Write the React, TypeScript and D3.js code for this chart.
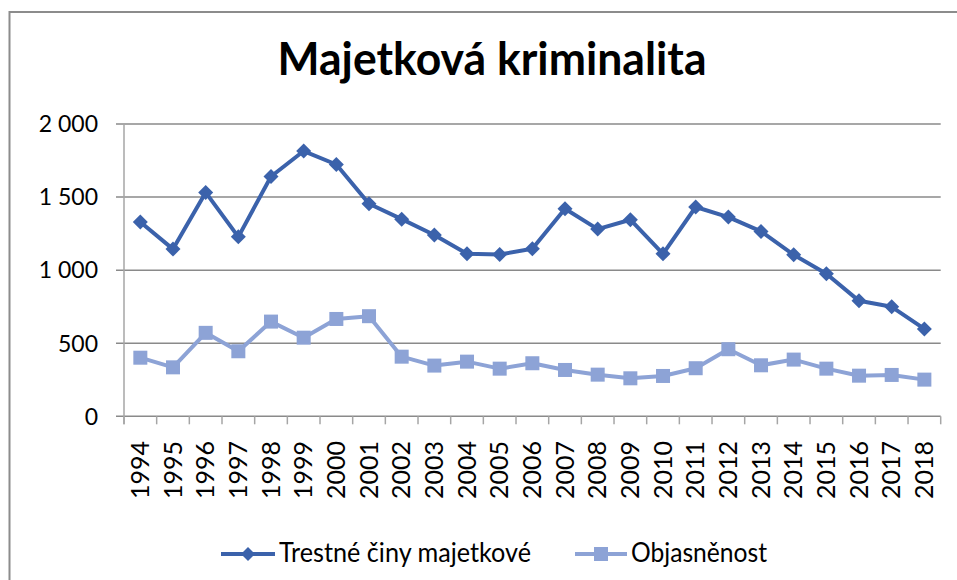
import React from "react";
import * as d3 from "d3";

const years = ["1994","1995","1996","1997","1998","1999","2000","2001","2002","2003","2004","2005","2006","2007","2008","2009","2010","2011","2012","2013","2014","2015","2016","2017","2018"];
const trestneCiny = [1329,1144,1532,1228,1641,1815,1723,1454,1349,1240,1112,1107,1146,1420,1281,1345,1112,1432,1363,1265,1105,975,790,749,598];
const objasnenost = [401,335,571,445,648,538,666,685,408,347,374,326,363,317,285,260,276,329,459,349,388,326,278,283,251];
const yTicks = [0, 500, 1000, 1500, 2000];
const title = "Majetková kriminalita";
const seriesNames = ["Trestné činy majetkové", "Objasněnost"];

const W = 957, H = 580;
const left = 124, right = 940.7, top = 124, bottom = 416.3;
const DARK = "#3B62AB";
const LIGHT = "#8DA3D6";
const GRID = "#8a8a8a";
const FONT = "Lato, 'Open Sans', sans-serif";

export default function App() {
  const x = d3.scaleBand<string>().domain(years).range([left, right]);
  const y = d3.scaleLinear().domain([0, 2000]).range([bottom, top]);
  const cx = (d: string) => (x(d) as number) + x.bandwidth() / 2;
  const line = d3.line<number>().x((_, i) => cx(years[i])).y((v) => y(v));
  const fmt = (v: number) => d3.format(",")(v).replace(/,/g, " ");
  const diamond = (px: number, py: number, r: number) =>
    `M${px},${py - r}L${px + r},${py}L${px},${py + r}L${px - r},${py}Z`;
  const boundaries = years.map((d) => x(d) as number).concat([right]);

  return (
    <svg width={W} height={H} style={{ position: "absolute", left: 0, top: 0, background: "#fff" }}>
      <rect x={0} y={0} width={W} height={H} fill="#fff" />
      {/* chart border */}
      <path d={`M9.5,${H + 5}V12H${W + 5}`} fill="none" stroke="#8c8c8c" strokeWidth={2} />
      <text x={492} y={75} textAnchor="middle" fontFamily={FONT} fontWeight="bold" fontSize={45}
        textLength={429} lengthAdjust="spacingAndGlyphs" fill="#000">{title}</text>
      {/* gridlines and y ticks */}
      {yTicks.map((t) => (
        <g key={t}>
          <line x1={116} x2={right} y1={y(t)} y2={y(t)} stroke={GRID} strokeWidth={1.5} />
          <text x={98} y={y(t)} dy="0.36em" textAnchor="end" fontFamily={FONT} fontSize={23} fill="#000">{fmt(t)}</text>
        </g>
      ))}
      {/* y axis */}
      <line x1={left} x2={left} y1={top} y2={bottom + 8} stroke="#a6a6a6" strokeWidth={1.5} />
      {/* x axis ticks */}
      {boundaries.map((b, i) => (
        <line key={i} x1={b} x2={b} y1={bottom} y2={bottom + 8} stroke="#a6a6a6" strokeWidth={1.5} />
      ))}
      {years.map((d) => (
        <text key={d} transform={`translate(${cx(d) + 8.5},441) rotate(-90)`} textAnchor="end"
          fontFamily={FONT} fontSize={25} fill="#000">{d}</text>
      ))}
      {/* series */}
      <path d={line(objasnenost) || ""} fill="none" stroke={LIGHT} strokeWidth={4} strokeLinejoin="round" />
      {objasnenost.map((v, i) => (
        <rect key={i} x={cx(years[i]) - 7} y={y(v) - 7} width={14} height={14} fill={LIGHT} />
      ))}
      <path d={line(trestneCiny) || ""} fill="none" stroke={DARK} strokeWidth={4} strokeLinejoin="round" />
      {trestneCiny.map((v, i) => (
        <path key={i} d={diamond(cx(years[i]), y(v), 7.5)} fill={DARK} />
      ))}
      {/* legend */}
      <g>
        <line x1={221} x2={275} y1={554} y2={554} stroke={DARK} strokeWidth={4} />
        <path d={diamond(248, 554, 7)} fill={DARK} />
        <text x={279} y={562} fontFamily={FONT} fontSize={26} textLength={252} lengthAdjust="spacingAndGlyphs" fill="#000">{seriesNames[0]}</text>
        <line x1={575} x2={627} y1={554} y2={554} stroke={LIGHT} strokeWidth={4} />
        <rect x={594} y={547} width={14} height={14} fill={LIGHT} />
        <text x={631} y={562} fontFamily={FONT} fontSize={26} textLength={136} lengthAdjust="spacingAndGlyphs" fill="#000">{seriesNames[1]}</text>
      </g>
    </svg>
  );
}
